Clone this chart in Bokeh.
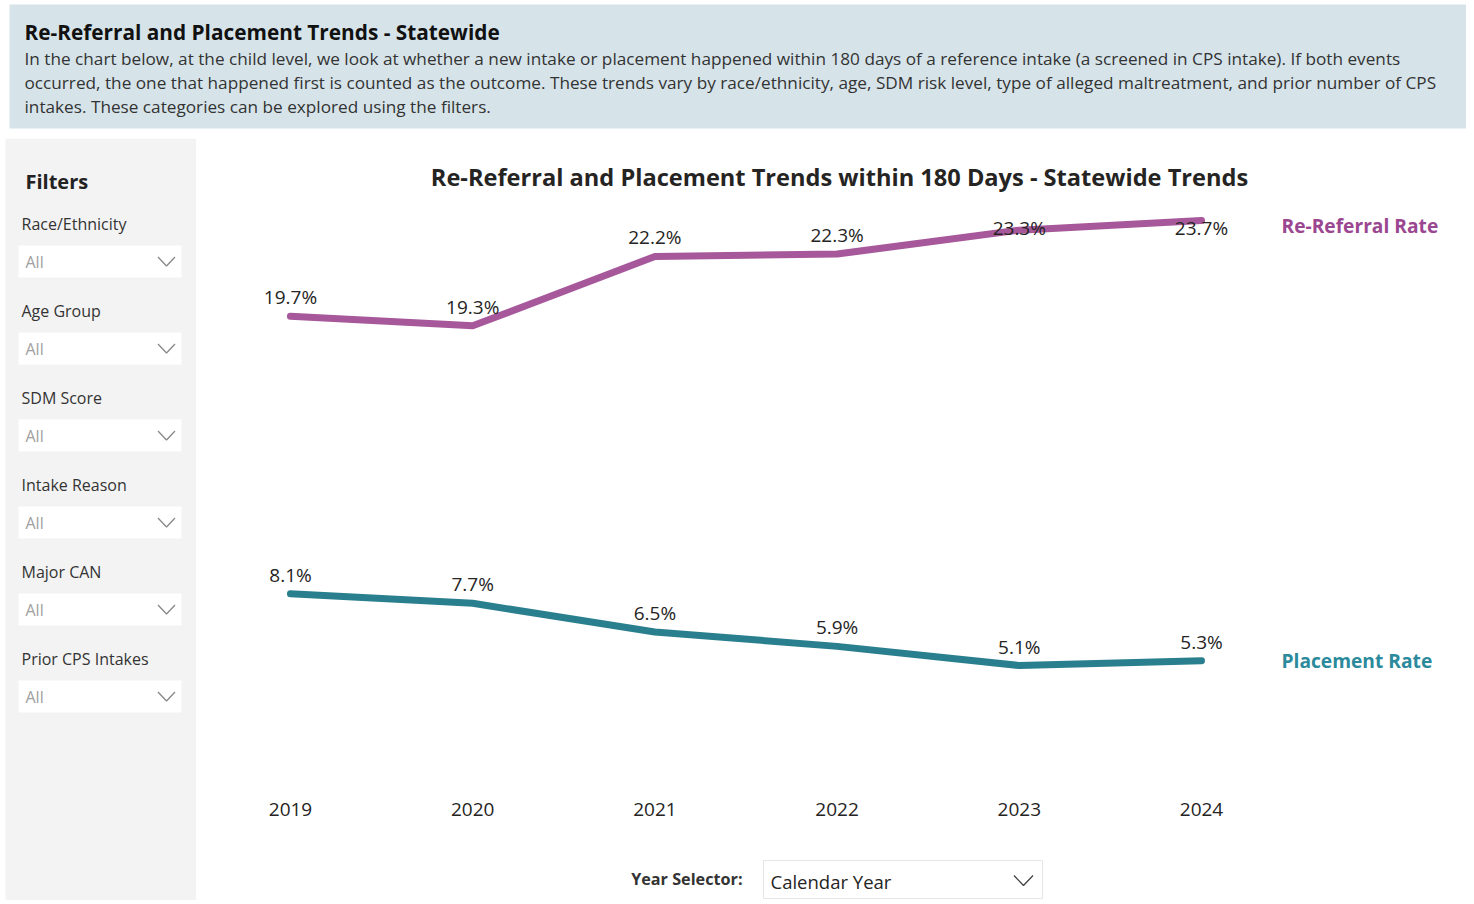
import numpy as np
from bokeh.plotting import figure
from bokeh.models import Range1d, FixedTicker
from bokeh.layouts import column, row
from bokeh.embed import file_html
from bokeh.resources import INLINE
from bokeh.core.properties import value

# ---------------- data ----------------
years = [2019, 2020, 2021, 2022, 2023, 2024]
rereferral = [19.7, 19.3, 22.2, 22.3, 23.3, 23.7]
placement = [8.1, 7.7, 6.5, 5.9, 5.1, 5.3]
series_names = ["Re-Referral Rate", "Placement Rate"]

filter_names = ["Race/Ethnicity", "Age Group", "SDM Score", "Intake Reason",
                "Major CAN", "Prior CPS Intakes"]
filter_values = ["All", "All", "All", "All", "All", "All"]

header_title = "Re-Referral and Placement Trends - Statewide"
header_lines = [
    "In the chart below, at the child level, we look at whether a new intake or placement happened within 180 days of a reference intake (a screened in CPS intake). If both events",
    "occurred, the one that happened first is counted as the outcome. These trends vary by race/ethnicity, age, SDM risk level, type of alleged maltreatment, and prior number of CPS",
    "intakes. These categories can be explored using the filters.",
]
chart_title = "Re-Referral and Placement Trends within 180 Days - Statewide Trends"
sidebar_title = "Filters"
year_selector_label = "Year Selector:"
year_selector_value = "Calendar Year"

FONT = "Open Sans"
TXT = "#252423"
PURPLE = "#A6589B"
TEAL = "#2A7F8F"
PURPLE_TXT = "#9B4690"
TEAL_TXT = "#2B8A9C"


def decor(w, h, bg="white"):
    p = figure(width=w, height=h, x_range=Range1d(0, w), y_range=Range1d(h, 0),
               output_backend="svg", toolbar_location=None, min_border=0,
               x_axis_location=None, y_axis_location=None,
               background_fill_color=bg, border_fill_color=bg,
               outline_line_color=None)
    p.grid.visible = False
    return p


def chevron(p, cx, cy, w=17, h=9, color="#605E5C"):
    p.line([cx - w / 2, cx, cx + w / 2], [cy - h / 2, cy + h / 2, cy - h / 2],
           line_color=color, line_width=1.3)


# ---------------- header ----------------
W = 1466
header = decor(W, 138)
header.quad(left=9, right=W, top=4, bottom=128, fill_color="#D6E4EA", line_color=None)
header.text(x=[24], y=[31], text=[header_title], text_font=value(FONT),
            text_font_style="bold", text_font_size="20.8px", text_baseline="middle",
            text_color="#111111")
header.text(x=[24] * 3, y=[58, 82, 106], text=header_lines, text_font=value(FONT),
            text_font_size="17.2px", text_baseline="middle", text_color="#333333")

# ---------------- sidebar ----------------
SB_W, SB_H = 196, 762
sidebar = decor(SB_W, SB_H)
sidebar.quad(left=5, right=SB_W, top=0, bottom=SB_H, fill_color="#F3F3F3", line_color=None)
sidebar.text(x=[25], y=[43], text=[sidebar_title], text_font=value(FONT),
             text_font_style="bold", text_font_size="20px", text_baseline="middle",
             text_color="#222222")
lab_y = [85 + 87 * i for i in range(len(filter_names))]
sidebar.text(x=[21] * len(filter_names), y=lab_y, text=filter_names, text_font=value(FONT),
             text_font_size="16px", text_baseline="middle", text_color="#333333")
sidebar.quad(left=[18] * len(lab_y), right=[181] * len(lab_y),
             top=[y + 22 for y in lab_y], bottom=[y + 54 for y in lab_y],
             fill_color="white", line_color=None)
sidebar.text(x=[25] * len(lab_y), y=[y + 38 for y in lab_y], text=filter_values,
             text_font=value(FONT), text_font_size="16px", text_baseline="middle",
             text_color="#A0A0A0")
for y in lab_y:
    chevron(sidebar, 166, y + 38, color="#8A8886")

# ---------------- chart ----------------
CH_W, CH_H, CH_BOTTOM = 1270, 712, 63
PX_YEAR = 182.2
PX_UNIT = 23.92
x0 = years[0] - 94 / PX_YEAR
x1 = x0 + CH_W / PX_YEAR
y1 = (CH_H - CH_BOTTOM) / PX_UNIT

chart = figure(width=CH_W, height=CH_H, x_range=Range1d(x0, x1), y_range=Range1d(0, y1),
               output_backend="svg", toolbar_location=None, y_axis_location=None,
               min_border_left=0, min_border_right=0, min_border_top=0,
               min_border_bottom=CH_BOTTOM, outline_line_color=None)
chart.grid.visible = False
chart.xaxis.ticker = FixedTicker(ticks=years)
chart.xaxis.axis_line_color = None
chart.xaxis.major_tick_line_color = None
chart.xaxis.minor_tick_line_color = None
chart.xaxis.major_label_standoff = 9
chart.xaxis.major_label_text_font = FONT
chart.xaxis.major_label_text_font_size = "19px"
chart.xaxis.major_label_text_color = TXT

chart.line(years, rereferral, line_width=7, line_color=PURPLE, line_join="round", line_cap="round")
chart.line(years, placement, line_width=7, line_color=TEAL, line_join="round", line_cap="round")

off = 19 / PX_UNIT
rr_lab_y = np.minimum(np.array(rereferral) + off, 23.4)
pl_lab_y = np.array(placement) + off
chart.text(x=years, y=rr_lab_y, text=[f"{v}%" for v in rereferral], text_font=value(FONT),
           text_font_size="19px", text_align="center", text_baseline="middle", text_color=TXT)
chart.text(x=years, y=pl_lab_y, text=[f"{v}%" for v in placement], text_font=value(FONT),
           text_font_size="19px", text_align="center", text_baseline="middle", text_color=TXT)

name_x = years[-1] + 80 / PX_YEAR
chart.text(x=[name_x], y=[rereferral[-1] - 0.2], text=[series_names[0]], text_font=value(FONT),
           text_font_style="bold", text_font_size="19.2px", text_baseline="middle",
           text_color=PURPLE_TXT)
chart.text(x=[name_x], y=[placement[-1]], text=[series_names[1]], text_font=value(FONT),
           text_font_style="bold", text_font_size="19.2px", text_baseline="middle",
           text_color=TEAL_TXT)

chart.text(x=[(x0 + x1) / 2 + 8 / PX_YEAR], y=[y1 - 38 / PX_UNIT], text=[chart_title],
           text_font=value(FONT), text_font_style="bold", text_font_size="23.6px",
           text_align="center", text_baseline="middle", text_color="#252423")

# ---------------- year selector ----------------
ysel = decor(CH_W, SB_H - CH_H)
ysel.text(x=[546], y=[28], text=[year_selector_label], text_font=value(FONT),
          text_font_style="bold", text_font_size="16.2px", text_align="right",
          text_baseline="middle", text_color="#333333")
ysel.quad(left=567, right=846, top=10, bottom=48, fill_color="white", line_color="#E6E6E6")
ysel.text(x=[574], y=[31], text=[year_selector_value], text_font=value(FONT),
          text_font_size="18.5px", text_baseline="middle", text_color=TXT)
chevron(ysel, 827, 30, w=19, h=10, color="#444444")

layout = column(header, row(sidebar, column(chart, ysel)))
open("out.html", "w").write(file_html(layout, INLINE))
